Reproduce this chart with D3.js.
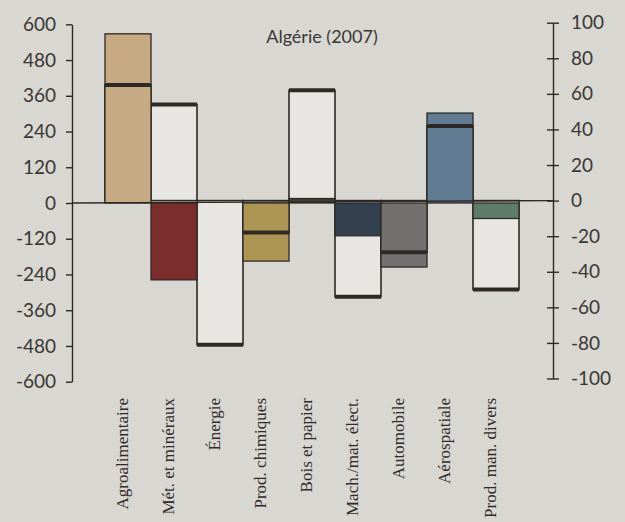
<!DOCTYPE html>
<html>
<head>
<meta charset="utf-8">
<script src="https://cdn.jsdelivr.net/npm/d3@7"></script>
<style>
body { margin: 0; background: #d9d7d2; }
svg { display: block; }
</style>
</head>
<body>
<svg id="chart" width="625" height="522"></svg>
<script>
var width = 625;
var height = 522;

var categories = ['Agroalimentaire', 'Mét. et minéraux', 'Énergie', 'Prod. chimiques', 'Bois et papier',
	'Mach./mat. élect.', 'Automobile', 'Aérospatiale', 'Prod. man. divers'];
// balance, left axis
var balance = [568, -258, 0, -195, 15, -110, -215, 302, -52];
// marker, right axis
var share = [65, 54, -81, -18, 62, -54, -29, 42, -50];
var fills = ['#c5aa83', '#7b2d2c', '#c5aa83', '#ad9554', '#3d4238', '#33404f', '#727170', '#607b92', '#5f7b69'];

var leftTicks = [-600, -480, -360, -240, -120, 0, 120, 240, 360, 480, 600];
var rightTicks = [-100, -80, -60, -40, -20, 0, 20, 40, 60, 80, 100];

var ink = '#2e2925';
var svg = d3.select('#chart');

var x = d3.scaleBand().domain(categories).range([105, 519]).padding(0);
var yL = d3.scaleLinear().domain([-600, 600]).range([381.7, 24.3]);
var yR = d3.scaleLinear().domain([-100, 100]).range([378.5, 22.7]);

var axL = 72, axR = 553;

// white outlined bars up to the marker (right axis)
svg.append('g').selectAll('rect')
	.data(categories)
	.enter()
	.append('rect')
	.attr('x', function(d) { return x(d); })
	.attr('width', x.bandwidth())
	.attr('y', function(d, i) { return Math.min(yR(share[i]), yR(0)); })
	.attr('height', function(d, i) { return Math.abs(yR(share[i]) - yR(0)); })
	.style('fill', '#e7e6e2')
	.style('stroke', ink)
	.style('stroke-width', 1.6);

// coloured bars (left axis)
svg.append('g').selectAll('rect')
	.data(categories)
	.enter()
	.append('rect')
	.attr('x', function(d) { return x(d); })
	.attr('width', x.bandwidth())
	.attr('y', function(d, i) { return Math.min(yL(balance[i]), yL(0)); })
	.attr('height', function(d, i) { return Math.abs(yL(balance[i]) - yL(0)); })
	.style('fill', function(d, i) { return fills[i]; })
	.style('stroke', ink)
	.style('stroke-width', function(d, i) { return balance[i] === 0 ? 0 : 1.3; });

// zero line
svg.append('line')
	.attr('x1', axL).attr('x2', axR)
	.attr('y1', yL(0)).attr('y2', yR(0))
	.style('stroke', ink)
	.style('stroke-width', 1.4);

// thick markers
svg.append('g').selectAll('line')
	.data(categories)
	.enter()
	.append('line')
	.attr('x1', function(d) { return x(d); })
	.attr('x2', function(d) { return x(d) + x.bandwidth(); })
	.attr('y1', function(d, i) { return yR(share[i]); })
	.attr('y2', function(d, i) { return yR(share[i]); })
	.style('stroke', ink)
	.style('stroke-width', 4);

// axes
var fmt = function(d) { return String(d); };

var gL = svg.append('g')
	.attr('transform', 'translate(' + axL + ',0)')
	.call(d3.axisLeft(yL).tickValues(leftTicks).tickFormat(fmt).tickSize(6).tickSizeOuter(0).tickPadding(10));

var gR = svg.append('g')
	.attr('transform', 'translate(' + axR + ',0)')
	.call(d3.axisRight(yR).tickValues(rightTicks).tickFormat(fmt).tickSize(6).tickSizeOuter(0).tickPadding(12));

gR.selectAll('.tick line').attr('x1', -6);

[gL, gR].forEach(function(g) {
	g.select('.domain').style('stroke', ink).style('stroke-width', 1.4);
	g.selectAll('.tick line').style('stroke', ink).style('stroke-width', 1.4);
	g.selectAll('.tick text')
		.style('font-family', 'Lato, sans-serif')
		.style('font-size', '19px')
		.style('fill', '#3a3633');
});

// category labels
svg.append('g').selectAll('text')
	.data(categories)
	.enter()
	.append('text')
	.attr('transform', function(d) {
		return 'translate(' + (x(d) + x.bandwidth() / 2 - 2) + ',398) rotate(-90)';
	})
	.attr('text-anchor', 'end')
	.attr('dy', '0.1em')
	.style('font-family', '"Liberation Serif", serif')
	.style('font-size', '17px')
	.style('fill', '#2f2b28')
	.text(function(d) { return d; });

// title
svg.append('text')
	.attr('x', 322)
	.attr('y', 43)
	.attr('text-anchor', 'middle')
	.style('font-family', 'Lato, sans-serif')
	.style('font-size', '18px')
	.style('fill', '#3a3633')
	.text('Algérie (2007)');
</script>
</body>
</html>
